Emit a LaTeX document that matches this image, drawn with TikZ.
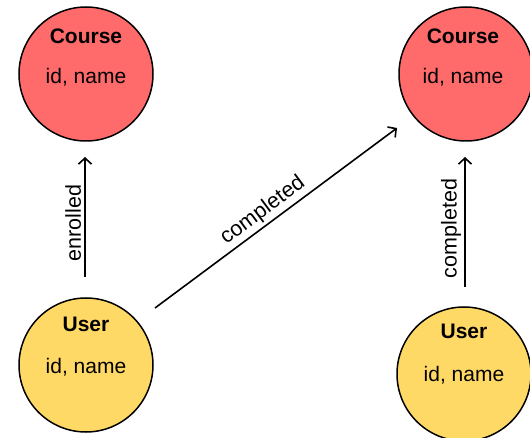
\documentclass[tikz,border=0pt]{standalone}
\usepackage{fontspec}
\setmainfont{Liberation Sans}
\usetikzlibrary{arrows.meta}
\definecolor{coursered}{RGB}{255,107,107}
\definecolor{useryellow}{RGB}{255,217,102}
\tikzset{
  entity/.style={circle, draw=black, line width=1.5pt, minimum size=134pt, inner sep=0pt},
  course/.style={entity, fill=coursered},
  usr/.style={entity, fill=useryellow},
  title/.style={font=\fontsize{21}{24}\selectfont\bfseries, inner sep=0pt},
  attrs/.style={font=\fontsize{21}{24}\selectfont, inner sep=0pt},
  rel/.style={line width=1.6pt, -{Straight Barb[length=6pt,width=13pt,line width=1.6pt]}},
  rellabel/.style={font=\fontsize{21.5}{24}\selectfont, sloped, above, inner sep=3pt}
}
\begin{document}
\begin{tikzpicture}[x=1pt,y=-1pt]
\useasboundingbox (0,0) rectangle (530,438);
\clip (0,0) rectangle (530,438);
\fill[white] (0,0) rectangle (530,438);
% nodes
\node[course] (c1) at (86,74) {};
\node[course] (c2) at (466,74) {};
\node[usr] (u1) at (86,365) {};
\node[usr] (u2) at (464,374) {};
% texts
\node[title] (c1t) at (86,36) {Course};
\node[attrs] (c1a) at (86,77) {id, name};
\node[title] (c2t) at (463,36) {Course};
\node[attrs] (c2a) at (463,77) {id, name};
\node[title] (u1t) at (86,324) {User};
\node[attrs] (u1a) at (86,367) {id, name};
\node[title] (u2t) at (464,331) {User};
\node[attrs] (u2a) at (464,375) {id, name};
% arrows
\coordinate (e1s) at (85,277);
\coordinate (e1e) at (85,157);
\coordinate (e2s) at (465,287);
\coordinate (e2e) at (465,157);
\coordinate (e3s) at (155,308);
\coordinate (e3e) at (397,128);
\draw[rel] (e1s) -- node[rellabel, pos=0.45] (l1) {enrolled} (e1e);
\draw[rel] (e2s) -- node[rellabel, pos=0.45] (l2) {completed} (e2e);
\draw[rel] (e3s) -- node[rellabel, pos=0.48] (l3) {completed} (e3e);
\end{tikzpicture}
\end{document}
